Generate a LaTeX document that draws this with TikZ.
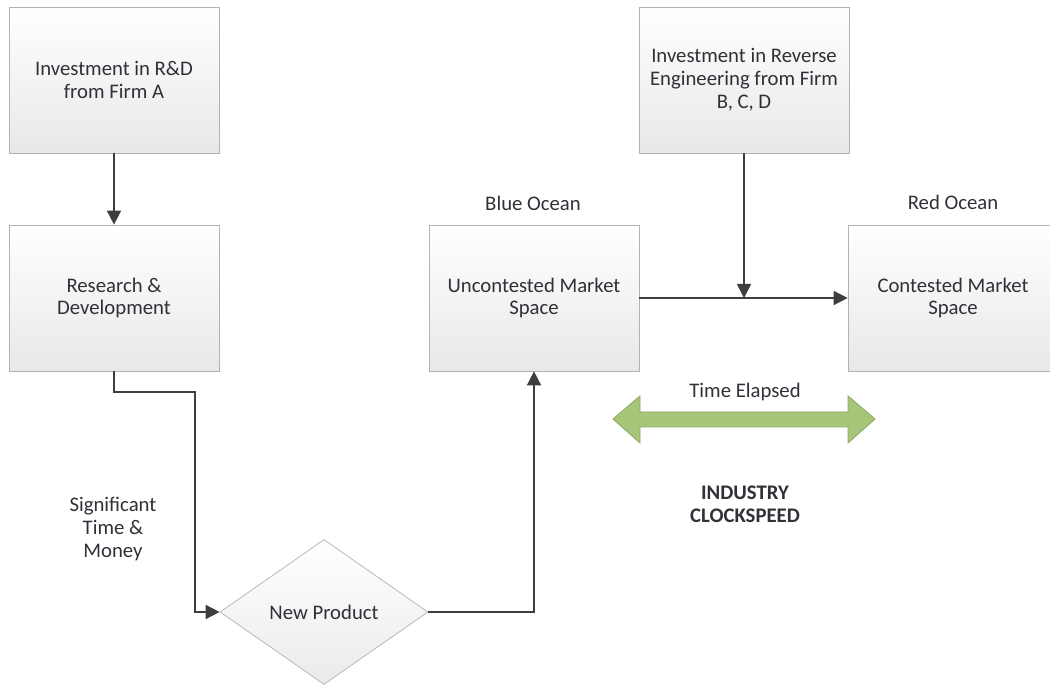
\documentclass[tikz,border=0pt]{standalone}
\usepackage{fontspec}
\setmainfont{Carlito}
\usetikzlibrary{shapes.geometric,arrows.meta,shadows}
\definecolor{lineC}{RGB}{62,62,62}
\definecolor{txtC}{RGB}{48,48,56}
\definecolor{bordC}{RGB}{178,178,178}
\definecolor{greenF}{RGB}{168,198,122}
\definecolor{greenD}{RGB}{140,170,98}

\tikzstyle{bS}=[rectangle,minimum width=4.2cm,minimum height=2.92cm,inner sep=0pt,draw=bordC,top color=white,bottom color=black!9,drop shadow={opacity=0.18,shadow xshift=0.7pt,shadow yshift=-0.7pt},text=txtC,font=\fontsize{11.8}{13}\selectfont,align=center]
\tikzstyle{dS}=[diamond,minimum width=4.16cm,minimum height=2.9cm,inner sep=0pt,draw=bordC,top color=white,bottom color=black!8,text=txtC,font=\fontsize{11.8}{13}\selectfont,align=center]
\tikzstyle{tS}=[inner sep=0pt,text=txtC,font=\fontsize{11.8}{13}\selectfont,align=center]
\tikzstyle{tB}=[inner sep=0pt,text=txtC,font=\fontsize{11.8}{13}\selectfont\bfseries,align=center]
\tikzstyle{aS}=[draw=lineC,line width=0.85pt,-{Triangle[length=8pt,width=8pt]},fill=none]
\tikzstyle{gA}=[fill=greenF,draw=greenD,line width=0.5pt,line join=miter]

\begin{document}
\begin{tikzpicture}[x=0.02cm,y=-0.02cm]
                \clip (0,0) rectangle (1050,688);
                \draw (114,80) node[bS] (inv) {Investment in R\&D\\from Firm A};
                \draw (114,298) node[bS] (rd) {Research \&\\Development};
                \draw (744,80) node[bS] (rev) {Investment in Reverse\\Engineering from Firm\\B, C, D};
                \draw (534,298) node[bS] (um) {Uncontested Market\\Space};
                \draw (953,298) node[bS] (cm) {Contested Market\\Space};
                \draw (324,612) node[dS] (np) {New Product};
                \draw (533,203) node[tS] (blue) {Blue Ocean};
                \draw (953,202) node[tS] (red) {Red Ocean};
                \draw (113,529) node[tS] (cost) {Significant\\Time \&\\Money};
                \draw (745,392) node[tS] (elapsed) {Time Elapsed};
                \draw (745,504) node[tB] (speed) {INDUSTRY\\CLOCKSPEED};
                \coordinate (k1) at (195,392);
                \coordinate (j1) at (rev.south |- um.east);
                % time arrow
                \draw[gA] (613,419) -- (640,396) -- (640,412) -- (848,412) -- (848,396) -- (875,419)
                    -- (848,443) -- (848,427) -- (640,427) -- (640,443) -- cycle;
                \draw[aS] (inv) -- (rd);
                \draw[aS] (rd.south) |- (k1) |- (np.west);
                \draw[aS] (np.east) -| (um.south);
                \draw[aS] (um.east) -- (cm.west);
                \draw[aS] (rev.south) -- (j1);
\end{tikzpicture}
\end{document}
